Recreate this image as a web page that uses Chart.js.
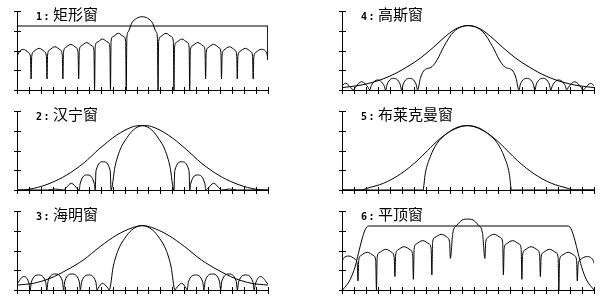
<!DOCTYPE html>
<html>
<head>
<meta charset="utf-8">
<script src="https://cdn.jsdelivr.net/npm/chart.js@4"></script>
<style>
  body { margin: 0; background: #fff; width: 616px; height: 302px; overflow: hidden; position: relative; }
  canvas { position: absolute; }
  .title { position: absolute; font-family: "Noto Sans CJK SC"; font-size: 15px; line-height: 16px; color: #000; white-space: nowrap; }
  .title b { font-family: "DejaVu Sans Mono"; font-size: 10px; font-weight: bold; letter-spacing: 1.5px; margin-right: 2px; }
</style>
</head>
<body>
<canvas id="c1" width="300" height="100" style="left:0;top:0"></canvas>
<canvas id="c2" width="300" height="100" style="left:0;top:100px"></canvas>
<canvas id="c3" width="300" height="100" style="left:0;top:200px"></canvas>
<canvas id="c4" width="300" height="100" style="left:325px;top:0"></canvas>
<canvas id="c5" width="300" height="100" style="left:325px;top:100px"></canvas>
<canvas id="c6" width="300" height="100" style="left:325px;top:200px"></canvas>

<div class="title" style="left:36px;top:6px"><b>1:</b>矩形窗</div>
<div class="title" style="left:36px;top:106px"><b>2:</b>汉宁窗</div>
<div class="title" style="left:36px;top:206px"><b>3:</b>海明窗</div>
<div class="title" style="left:361px;top:6px"><b>4:</b>高斯窗</div>
<div class="title" style="left:361px;top:106px"><b>5:</b>布莱克曼窗</div>
<div class="title" style="left:361px;top:206px"><b>6:</b>平顶窗</div>

<script>
// axis ticks (x: 21 divisions, y: 4 divisions)
const xTicks = [0,1,2,3,4,5,6,7,8,9,10,11,12,13,14,15,16,17,18,19,20,21];
const yTicks = [0,1,2,3,4];

// 1: rectangular window
const rectWindow = [[0,3.24],[21,3.24],[21,1.52]];
const rectSpectrum = [
  [0,1.69],[0.15,1.89],[0.52,2.06],[0.98,1.89],[1.13,1.64],[1.18,0.56],
  [1.23,1.69],[1.38,1.94],[1.85,2.11],[2.31,1.94],[2.46,1.69],[2.51,0.56],
  [2.56,1.77],[2.71,2.02],[3.17,2.19],[3.64,2.02],[3.79,1.77],[3.84,0.56],
  [3.89,1.89],[4.04,2.14],[4.50,2.31],[4.96,2.14],[5.11,1.89],[5.16,0.56],
  [5.21,1.98],[5.36,2.23],[5.83,2.40],[6.29,2.23],[6.44,1.98],[6.49,0],
  [6.54,2.16],[6.69,2.41],[7.15,2.58],[7.62,2.41],[7.77,2.16],[7.82,0],
  [7.87,2.45],[8.02,2.70],[8.48,2.87],[8.94,2.70],[9.09,2.45],[9.14,0],
  [9.19,2.62],[9.31,2.95],[9.59,3.38],[10.01,3.63],[10.47,3.71],[10.93,3.63],[11.35,3.38],[11.63,2.95],[11.75,2.62],[11.80,0],
  [11.85,2.45],[12.00,2.70],[12.46,2.87],[12.93,2.70],[13.08,2.45],[13.13,0],
  [13.18,2.16],[13.33,2.41],[13.79,2.58],[14.25,2.41],[14.40,2.16],[14.45,0],
  [14.50,1.98],[14.65,2.23],[15.12,2.40],[15.58,2.23],[15.73,1.98],[15.78,0.56],
  [15.83,1.89],[15.98,2.14],[16.44,2.31],[16.91,2.14],[17.06,1.89],[17.11,0.56],
  [17.16,1.77],[17.31,2.02],[17.77,2.19],[18.23,2.02],[18.38,1.77],[18.43,0.56],
  [18.48,1.69],[18.63,1.94],[19.10,2.11],[19.56,1.94],[19.71,1.69],[19.76,0.56],
  [19.81,1.64],[19.96,1.89],[20.42,2.06],[20.89,1.89],[21,1.52]
];

// 2: Hanning window
const hannWindow = [
  [0,0],[0.25,0],[1.37,0.08],[2.76,0.34],[4.16,0.76],[5.55,1.35],[6.94,2.11],[8.34,2.78],[9.73,3.21],[10.5,3.26],
  [11.27,3.21],[12.66,2.78],[14.06,2.11],[15.45,1.35],[16.84,0.76],[18.24,0.34],[19.63,0.08],[20.75,0],[21,0]
];
const hannSpectrum = [
  [0,0],[2.55,0],[3.21,0.05],[3.88,0],
  [4.01,0.05],[4.55,0.34],[5.08,0.05],[5.21,0],
  [5.28,0.31],[5.88,0.76],[6.47,0.31],[6.54,0],
  [6.61,0.98],[7.21,1.43],[7.80,0.98],[7.87,0],
  [8.20,1.18],[8.62,2.03],[9.17,2.62],[9.73,3.04],[10.5,3.26],[11.27,3.04],[11.83,2.62],[12.38,2.03],[12.80,1.18],[13.13,0],
  [13.20,0.98],[13.79,1.43],[14.39,0.98],[14.46,0],
  [14.53,0.31],[15.12,0.76],[15.72,0.31],[15.79,0],
  [15.92,0.05],[16.45,0.34],[16.99,0.05],[17.12,0],
  [17.78,0.05],[18.45,0],[21,0]
];

// 3: Hamming window
const hammWindow = [
  [0,0.25],[1.37,0.34],[2.76,0.59],[4.16,1.01],[5.55,1.52],[6.94,2.19],[8.34,2.78],[9.73,3.17],[10.49,3.26],
  [11.25,3.17],[12.64,2.78],[14.04,2.19],[15.43,1.52],[16.82,1.01],[18.22,0.59],[19.61,0.34],[21,0.25]
];
const hammSpectrum = [
  [0,0.3],[0.55,0.68],[1.02,0.3],[1.1,0],
  [1.2,0.4],[1.8,0.76],[2.4,0.4],[2.5,0],
  [2.6,0.45],[3.2,0.81],[3.8,0.45],[3.9,0],
  [4.0,0.45],[4.6,0.81],[5.2,0.45],[5.3,0],
  [5.4,0.4],[6.0,0.76],[6.6,0.4],[6.7,0],
  [6.8,0.1],[7.15,0.34],[7.6,0.1],[7.72,0],
  [8.05,1.18],[8.47,2.03],[9.02,2.62],[9.6,3.04],[10.47,3.26],[11.34,3.04],[11.92,2.62],[12.47,2.03],[12.89,1.18],[13.22,0],
  [13.34,0.1],[13.79,0.34],[14.14,0.1],[14.24,0],
  [14.34,0.4],[14.94,0.76],[15.54,0.4],[15.64,0],
  [15.74,0.45],[16.34,0.81],[16.94,0.45],[17.04,0],
  [17.14,0.45],[17.74,0.81],[18.34,0.45],[18.44,0],
  [18.54,0.4],[19.14,0.76],[19.74,0.4],[19.84,0],
  [19.94,0.3],[20.39,0.68],[21,0.3]
];

// 4: Gaussian window
const gaussWindow = [
  [0,0.12],[1.5,0.24],[2.5,0.38],[3.5,0.58],[4.5,0.85],[5.5,1.2],[6.5,1.6],[7.5,2.1],[8.5,2.65],[9.5,3.1],[10.5,3.26],
  [11.5,3.1],[12.5,2.65],[13.5,2.1],[14.5,1.6],[15.5,1.2],[16.5,0.85],[17.5,0.58],[18.5,0.38],[19.5,0.24],[21,0.12]
];
const gaussSpectrum = [
  [0,0.22],[0.31,0.34],[0.85,0.05],[0.98,0],
  [1.11,0.13],[1.64,0.42],[2.18,0.13],[2.31,0],
  [2.44,0.22],[2.97,0.51],[3.51,0.22],[3.64,0],
  [3.77,0.30],[4.30,0.59],[4.84,0.30],[4.97,0],
  [5.10,0.30],[5.63,0.59],[6.17,0.30],[6.30,0],
  [6.53,0.59],[6.80,0.96],[7.50,1.18],[7.92,1.52],[8.48,2.19],[9.31,2.95],[10.52,3.26],
  [11.73,2.95],[12.56,2.19],[13.12,1.52],[13.54,1.18],[14.24,0.96],[14.51,0.59],[14.74,0],
  [14.87,0.30],[15.40,0.59],[15.94,0.30],[16.07,0],
  [16.20,0.30],[16.73,0.59],[17.27,0.30],[17.40,0],
  [17.53,0.22],[18.06,0.51],[18.60,0.22],[18.73,0],
  [18.86,0.13],[19.39,0.42],[19.93,0.13],[20.06,0],
  [20.19,0.05],[20.73,0.34],[21,0.22]
];

// 5: Blackman window
const blackWindow = [
  [0,0],[1.6,0],[2.05,0.08],[3.45,0.34],[4.85,0.8],[6.25,1.47],[7.1,1.98],[8.21,2.62],[9.33,3.07],[10.45,3.26],
  [11.57,3.07],[12.69,2.62],[13.8,1.98],[14.65,1.47],[16.05,0.8],[17.45,0.34],[18.85,0.08],[19.3,0],[21,0]
];
const blackSpectrum = [
  [0,0],[6.75,0],[6.94,0.84],[7.36,1.69],[7.92,2.36],[8.76,2.87],[9.59,3.17],[10.44,3.26],
  [11.29,3.17],[12.12,2.87],[12.96,2.36],[13.52,1.69],[13.94,0.84],[14.13,0],[21,0]
];

// 6: flat-top window
const flatWindow = [
  [0.05,0],[0.67,0.51],[1.09,1.18],[1.37,1.86],[1.65,2.53],[1.92,3.04],[2.2,3.24],
  [18.85,3.24],[19.13,3.04],[19.4,2.53],[19.68,1.86],[19.96,1.18],[20.38,0.51],[21,0]
];
const flatSpectrum = [
  [0,1.45],[0.12,1.6],[0.56,1.72],[1.10,1.55],[1.27,1.30],[1.33,0.46],
  [1.39,1.49],[1.56,1.74],[2.10,1.91],[2.64,1.74],[2.81,1.49],[2.87,0],
  [2.93,1.64],[3.10,1.89],[3.64,2.06],[4.18,1.89],[4.35,1.64],[4.41,0.68],
  [4.47,1.77],[4.64,2.02],[5.18,2.19],[5.72,2.02],[5.89,1.77],[5.95,0.54],
  [6.01,2.08],[6.18,2.33],[6.72,2.50],[7.26,2.33],[7.43,2.08],[7.49,0.76],
  [7.55,2.40],[7.72,2.65],[8.26,2.82],[8.80,2.65],[8.97,2.40],[9.03,1.60],
  [9.23,2.87],[9.59,3.29],[10.01,3.54],[10.47,3.59],[10.93,3.54],[11.35,3.29],[11.71,2.87],[11.91,1.60],
  [11.97,2.40],[12.14,2.65],[12.68,2.82],[13.22,2.65],[13.39,2.40],[13.45,0.76],
  [13.51,2.08],[13.68,2.33],[14.22,2.50],[14.76,2.33],[14.93,2.08],[14.99,0.54],
  [15.05,1.77],[15.22,2.02],[15.76,2.19],[16.30,2.02],[16.47,1.77],[16.53,0.68],
  [16.59,1.64],[16.76,1.89],[17.30,2.06],[17.84,1.89],[18.01,1.64],[18.07,0],
  [18.13,1.49],[18.30,1.74],[18.84,1.91],[19.38,1.74],[19.55,1.49],[19.61,0.46],
  [19.67,1.27],[19.84,1.52],[20.38,1.69],[20.92,1.52],[21,1.35]
];

// tick marks crossing the axis lines
const crossTicks = {
  id: "crossTicks",
  afterDraw(chart) {
    const { ctx, chartArea } = chart;
    const x = chart.scales.x;
    const y = chart.scales.y;
    ctx.save();
    ctx.strokeStyle = "#000";
    ctx.lineWidth = 1;
    ctx.beginPath();
    xTicks.forEach((v) => {
      const px = Math.round(x.getPixelForValue(v)) + 0.5;
      ctx.moveTo(px, chartArea.bottom - 3);
      ctx.lineTo(px, chartArea.bottom + 4);
    });
    yTicks.forEach((v) => {
      const py = Math.round(y.getPixelForValue(v)) + 0.5;
      ctx.moveTo(chartArea.left - 3, py);
      ctx.lineTo(chartArea.left + 4, py);
    });
    ctx.stroke();
    ctx.restore();
  },
};

function toPoints(pairs) {
  return pairs.map((p) => ({ x: p[0], y: p[1] }));
}

function createPanel(id, windowData, spectrumData, rightPad, straightWindow) {
  const canvas = document.getElementById(id);

  new Chart(canvas.getContext("2d"), {
    type: "line",

    data: {
      datasets: [
        {
          data: toPoints(windowData),
          borderColor: "#000",
          borderWidth: 1,
          pointRadius: 0,
          tension: 0,
          cubicInterpolationMode: straightWindow ? "default" : "monotone",
        },
        {
          data: toPoints(spectrumData),
          borderColor: "#000",
          borderWidth: 1,
          pointRadius: 0,
          tension: 0,
          cubicInterpolationMode: "monotone",
        },
      ],
    },

    options: {
      responsive: false,
      animation: false,
      devicePixelRatio: 1,
      events: [],
      layout: { padding: { left: 17, top: 11, right: rightPad, bottom: 10 } },
      plugins: {
        legend: { display: false },
        tooltip: { enabled: false },
      },
      scales: {
        x: {
          type: "linear",
          min: 0,
          max: 21,
          ticks: { display: false, stepSize: 1 },
          grid: { display: false, drawTicks: false },
          border: { color: "#000", width: 1 },
        },
        y: {
          type: "linear",
          min: 0,
          max: 4,
          ticks: { display: false, stepSize: 1 },
          grid: { display: false, drawTicks: false },
          border: { color: "#000", width: 1 },
        },
      },
    },

    plugins: [crossTicks],
  });
}

createPanel("c1", rectWindow, rectSpectrum, 32, true);
createPanel("c2", hannWindow, hannSpectrum, 32, false);
createPanel("c3", hammWindow, hammSpectrum, 32, false);
createPanel("c4", gaussWindow, gaussSpectrum, 31, false);
createPanel("c5", blackWindow, blackSpectrum, 31, false);
createPanel("c6", flatWindow, flatSpectrum, 31, false);
</script>
</body>
</html>
